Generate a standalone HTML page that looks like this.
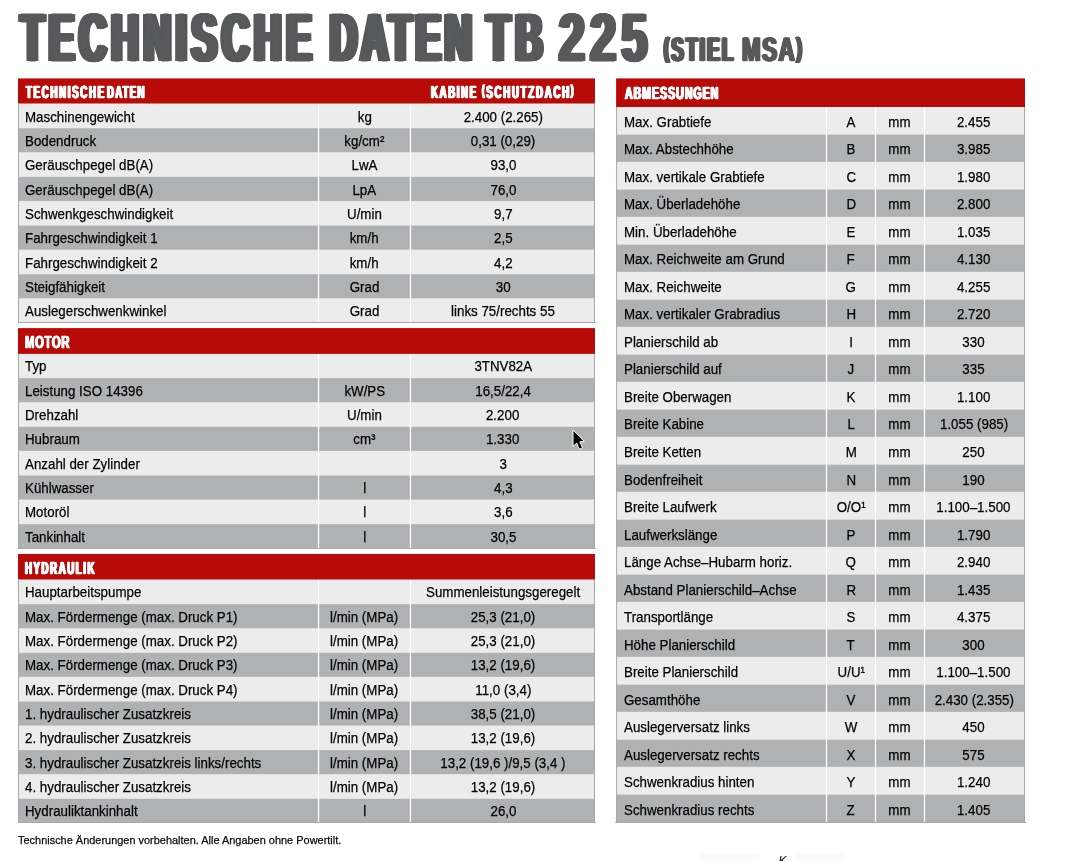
<!DOCTYPE html>
<html lang="de"><head><meta charset="utf-8"><title>Technische Daten TB 225</title>
<style>
html,body{margin:0;padding:0;background:#fff;}
body{width:1065px;height:861px;position:relative;overflow:hidden;font-family:"Liberation Sans",sans-serif;color:#000;}
.abs{position:absolute;}
.r{height:28px;line-height:28px;font-size:14.9px;}
.t{display:inline-block;transform:scaleX(0.895);-webkit-text-stroke:0.25px #000;transform-origin:0 50%;white-space:nowrap;}
.ct{text-align:center;}
.ct .t{transform-origin:50% 50%;}
.pa{font-size:0.82em;position:relative;top:-0.16em;}
.hl{position:absolute;text-rendering:geometricPrecision;color:#58595b;font-weight:bold;white-space:nowrap;transform-origin:0 0;}
</style></head><body>
<svg class="abs" style="left:0;top:0;" width="1065" height="861" viewBox="0 0 1065 861">
<rect x="18" y="100.75" width="577" height="222.25" fill="#ececec"/>
<rect x="18" y="128.233" width="577" height="24.033" fill="#b0b1b3"/>
<rect x="18" y="176.9" width="577" height="24.033" fill="#b0b1b3"/>
<rect x="18" y="225.567" width="577" height="24.033" fill="#b0b1b3"/>
<rect x="18" y="274.233" width="577" height="24.033" fill="#b0b1b3"/>
<rect x="317.9" y="103.25" width="1.3" height="219.75" fill="#fff"/>
<rect x="409.8" y="103.25" width="1.3" height="219.75" fill="#fff"/>
<rect x="18" y="78.4" width="577" height="25.1" fill="#b80a07"/>
<rect x="18" y="322" width="578" height="1" fill="#a8a9ab"/>
<rect x="594" y="103.5" width="1" height="219.5" fill="#a8a9ab"/>
<rect x="18" y="103.5" width="1" height="219.5" fill="#a8a9ab"/>
<rect x="18" y="350.67" width="577" height="198.33" fill="#ececec"/>
<rect x="18" y="378.153" width="577" height="24.033" fill="#b0b1b3"/>
<rect x="18" y="426.82" width="577" height="24.033" fill="#b0b1b3"/>
<rect x="18" y="475.486" width="577" height="24.033" fill="#b0b1b3"/>
<rect x="18" y="524.153" width="577" height="24.847" fill="#b0b1b3"/>
<rect x="317.9" y="353.17" width="1.3" height="195.83" fill="#fff"/>
<rect x="409.8" y="353.17" width="1.3" height="195.83" fill="#fff"/>
<rect x="18" y="328.1" width="577" height="25.8" fill="#b80a07"/>
<rect x="18" y="548" width="578" height="1" fill="#a8a9ab"/>
<rect x="594" y="353.9" width="1" height="195.1" fill="#a8a9ab"/>
<rect x="18" y="353.9" width="1" height="195.1" fill="#a8a9ab"/>
<rect x="18" y="576.67" width="577" height="246.33" fill="#ececec"/>
<rect x="18" y="604.153" width="577" height="24.033" fill="#b0b1b3"/>
<rect x="18" y="652.82" width="577" height="24.033" fill="#b0b1b3"/>
<rect x="18" y="701.486" width="577" height="24.033" fill="#b0b1b3"/>
<rect x="18" y="750.153" width="577" height="24.033" fill="#b0b1b3"/>
<rect x="18" y="798.82" width="577" height="24.18" fill="#b0b1b3"/>
<rect x="317.9" y="579.17" width="1.3" height="243.83" fill="#fff"/>
<rect x="409.8" y="579.17" width="1.3" height="243.83" fill="#fff"/>
<rect x="18" y="553.95" width="577" height="25.55" fill="#b80a07"/>
<rect x="18" y="822" width="578" height="1" fill="#a8a9ab"/>
<rect x="594" y="579.5" width="1" height="243.5" fill="#a8a9ab"/>
<rect x="18" y="579.5" width="1" height="243.5" fill="#a8a9ab"/>
<rect x="616.1" y="104" width="408.9" height="719" fill="#ececec"/>
<rect x="616.1" y="134.65" width="408.9" height="27.2" fill="#b0b1b3"/>
<rect x="616.1" y="189.65" width="408.9" height="27.2" fill="#b0b1b3"/>
<rect x="616.1" y="244.65" width="408.9" height="27.2" fill="#b0b1b3"/>
<rect x="616.1" y="299.65" width="408.9" height="27.2" fill="#b0b1b3"/>
<rect x="616.1" y="354.65" width="408.9" height="27.2" fill="#b0b1b3"/>
<rect x="616.1" y="409.65" width="408.9" height="27.2" fill="#b0b1b3"/>
<rect x="616.1" y="464.65" width="408.9" height="27.2" fill="#b0b1b3"/>
<rect x="616.1" y="519.65" width="408.9" height="27.2" fill="#b0b1b3"/>
<rect x="616.1" y="574.65" width="408.9" height="27.2" fill="#b0b1b3"/>
<rect x="616.1" y="629.65" width="408.9" height="27.2" fill="#b0b1b3"/>
<rect x="616.1" y="684.65" width="408.9" height="27.2" fill="#b0b1b3"/>
<rect x="616.1" y="739.65" width="408.9" height="27.2" fill="#b0b1b3"/>
<rect x="616.1" y="794.65" width="408.9" height="28.35" fill="#b0b1b3"/>
<rect x="825.85" y="106.5" width="1.3" height="716.5" fill="#fff"/>
<rect x="874.85" y="106.5" width="1.3" height="716.5" fill="#fff"/>
<rect x="923.85" y="106.5" width="1.3" height="716.5" fill="#fff"/>
<rect x="616.1" y="78.4" width="408.9" height="28.6" fill="#b80a07"/>
<rect x="616.1" y="107" width="1" height="716" fill="#a8a9ab"/>
<rect x="1024" y="107" width="1" height="716" fill="#a8a9ab"/>
<rect x="615.1" y="822" width="410.9" height="1" fill="#a8a9ab"/>
</svg>
<div class="hl" style="-webkit-text-stroke:1.2px #58595b;color:#58595b;left:20.8px;top:-1.56px;font-size:68px;line-height:81.6px;height:81.6px;transform:scale(0.55,1);letter-spacing:9.56px;text-shadow:1px 0 0 #58595b,-1px 0 0 #58595b,2px 0 0 #58595b,-2px 0 0 #58595b,3px 0 0 #58595b,-3px 0 0 #58595b,4px 0 0 #58595b,-4px 0 0 #58595b,5px 0 0 #58595b,-5px 0 0 #58595b,6px 0 0 #58595b,-6px 0 0 #58595b;">TECHNISCHE</div>
<div class="hl" style="-webkit-text-stroke:1.2px #58595b;color:#58595b;left:329.65px;top:-1.56px;font-size:68px;line-height:81.6px;height:81.6px;transform:scale(0.55,1);letter-spacing:7.11px;text-shadow:1px 0 0 #58595b,-1px 0 0 #58595b,2px 0 0 #58595b,-2px 0 0 #58595b,3px 0 0 #58595b,-3px 0 0 #58595b,4px 0 0 #58595b,-4px 0 0 #58595b,5px 0 0 #58595b,-5px 0 0 #58595b,6px 0 0 #58595b,-6px 0 0 #58595b;">DATEN</div>
<div class="hl" style="-webkit-text-stroke:1.2px #58595b;color:#58595b;left:487.2px;top:-1.56px;font-size:68px;line-height:81.6px;height:81.6px;transform:scale(0.55,1);letter-spacing:10.4px;text-shadow:1px 0 0 #58595b,-1px 0 0 #58595b,2px 0 0 #58595b,-2px 0 0 #58595b,3px 0 0 #58595b,-3px 0 0 #58595b,4px 0 0 #58595b,-4px 0 0 #58595b,5px 0 0 #58595b,-5px 0 0 #58595b,6px 0 0 #58595b,-6px 0 0 #58595b;">TB</div>
<div class="hl" style="-webkit-text-stroke:1.2px #58595b;color:#58595b;left:559px;top:-1.56px;font-size:68px;line-height:81.6px;height:81.6px;transform:scale(0.68,1);letter-spacing:8.13px;text-shadow:1px 0 0 #58595b,-1px 0 0 #58595b,2px 0 0 #58595b,-2px 0 0 #58595b,3px 0 0 #58595b,-3px 0 0 #58595b,3.8px 0 0 #58595b,-3.8px 0 0 #58595b;">225</div>
<div class="hl" style="-webkit-text-stroke:0.6px #58595b;color:#58595b;left:663.8px;top:30.01px;font-size:33.8px;line-height:40.56px;height:40.56px;transform:scale(0.55,1);letter-spacing:4.2px;text-shadow:1px 0 0 #58595b,-1px 0 0 #58595b,2px 0 0 #58595b,-2px 0 0 #58595b,3px 0 0 #58595b,-3px 0 0 #58595b;"><span class="pa">(</span>STIEL</div>
<div class="hl" style="-webkit-text-stroke:0.6px #58595b;color:#58595b;left:741.72px;top:30.01px;font-size:33.8px;line-height:40.56px;height:40.56px;transform:scale(0.66,1);letter-spacing:2.33px;text-shadow:1px 0 0 #58595b,-1px 0 0 #58595b,2px 0 0 #58595b,-2px 0 0 #58595b;">MSA<span class="pa">)</span></div>
<div class="hl" style="-webkit-text-stroke:0.3px #fff;color:#fff;left:25.8px;top:81.54px;font-size:17.6px;line-height:21.12px;height:21.12px;transform:scale(0.55,1);letter-spacing:3.07px;text-shadow:1px 0 0 #fff,-1px 0 0 #fff,1.38px 0 0 #fff,-1.38px 0 0 #fff;">TECHNISCHE</div>
<div class="hl" style="-webkit-text-stroke:0.3px #fff;color:#fff;left:107.15px;top:81.54px;font-size:17.6px;line-height:21.12px;height:21.12px;transform:scale(0.55,1);letter-spacing:2.17px;text-shadow:1px 0 0 #fff,-1px 0 0 #fff,1.38px 0 0 #fff,-1.38px 0 0 #fff;">DATEN</div>
<div class="hl" style="-webkit-text-stroke:0.3px #fff;color:#fff;left:431.45px;top:81.54px;font-size:17.6px;line-height:21.12px;height:21.12px;transform:scale(0.55,1);letter-spacing:2.91px;text-shadow:1px 0 0 #fff,-1px 0 0 #fff,1.38px 0 0 #fff,-1.38px 0 0 #fff;">KABINE</div>
<div class="hl" style="-webkit-text-stroke:0.3px #fff;color:#fff;left:481.75px;top:81.54px;font-size:17.6px;line-height:21.12px;height:21.12px;transform:scale(0.55,1);letter-spacing:3.14px;text-shadow:1px 0 0 #fff,-1px 0 0 #fff,1.38px 0 0 #fff,-1.38px 0 0 #fff;"><span class="pa">(</span>SCHUTZDACH<span class="pa">)</span></div>
<div class="abs r" style="left:18px;top:103px;width:299.9px;"><span class="t" style="margin-left:6.5px;">Maschinengewicht</span></div><div class="abs r ct" style="left:319.2px;top:103px;width:90.6px;"><span class="t">kg</span></div><div class="abs r ct" style="left:411.1px;top:103px;width:183.9px;"><span class="t">2.400 (2.265)</span></div>
<div class="abs r" style="left:18px;top:127px;width:299.9px;"><span class="t" style="margin-left:6.5px;">Bodendruck</span></div><div class="abs r ct" style="left:319.2px;top:127px;width:90.6px;"><span class="t">kg/cm²</span></div><div class="abs r ct" style="left:411.1px;top:127px;width:183.9px;"><span class="t">0,31 (0,29)</span></div>
<div class="abs r" style="left:18px;top:151px;width:299.9px;"><span class="t" style="margin-left:6.5px;">Geräuschpegel dB(A)</span></div><div class="abs r ct" style="left:319.2px;top:151px;width:90.6px;"><span class="t">LwA</span></div><div class="abs r ct" style="left:411.1px;top:151px;width:183.9px;"><span class="t">93,0</span></div>
<div class="abs r" style="left:18px;top:176px;width:299.9px;"><span class="t" style="margin-left:6.5px;">Geräuschpegel dB(A)</span></div><div class="abs r ct" style="left:319.2px;top:176px;width:90.6px;"><span class="t">LpA</span></div><div class="abs r ct" style="left:411.1px;top:176px;width:183.9px;"><span class="t">76,0</span></div>
<div class="abs r" style="left:18px;top:200px;width:299.9px;"><span class="t" style="margin-left:6.5px;">Schwenkgeschwindigkeit</span></div><div class="abs r ct" style="left:319.2px;top:200px;width:90.6px;"><span class="t">U/min</span></div><div class="abs r ct" style="left:411.1px;top:200px;width:183.9px;"><span class="t">9,7</span></div>
<div class="abs r" style="left:18px;top:224px;width:299.9px;"><span class="t" style="margin-left:6.5px;">Fahrgeschwindigkeit 1</span></div><div class="abs r ct" style="left:319.2px;top:224px;width:90.6px;"><span class="t">km/h</span></div><div class="abs r ct" style="left:411.1px;top:224px;width:183.9px;"><span class="t">2,5</span></div>
<div class="abs r" style="left:18px;top:249px;width:299.9px;"><span class="t" style="margin-left:6.5px;">Fahrgeschwindigkeit 2</span></div><div class="abs r ct" style="left:319.2px;top:249px;width:90.6px;"><span class="t">km/h</span></div><div class="abs r ct" style="left:411.1px;top:249px;width:183.9px;"><span class="t">4,2</span></div>
<div class="abs r" style="left:18px;top:273px;width:299.9px;"><span class="t" style="margin-left:6.5px;">Steigfähigkeit</span></div><div class="abs r ct" style="left:319.2px;top:273px;width:90.6px;"><span class="t">Grad</span></div><div class="abs r ct" style="left:411.1px;top:273px;width:183.9px;"><span class="t">30</span></div>
<div class="abs r" style="left:18px;top:297px;width:299.9px;"><span class="t" style="margin-left:6.5px;">Auslegerschwenkwinkel</span></div><div class="abs r ct" style="left:319.2px;top:297px;width:90.6px;"><span class="t">Grad</span></div><div class="abs r ct" style="left:411.1px;top:297px;width:183.9px;"><span class="t">links 75/rechts 55</span></div>
<div class="hl" style="-webkit-text-stroke:0.3px #fff;color:#fff;left:24.75px;top:331.54px;font-size:17.6px;line-height:21.12px;height:21.12px;transform:scale(0.64,1);letter-spacing:1.09px;text-shadow:0.9px 0 0 #fff,-0.9px 0 0 #fff;">MOTOR</div>
<div class="abs r" style="left:18px;top:352px;width:299.9px;"><span class="t" style="margin-left:6.5px;">Typ</span></div><div class="abs r ct" style="left:411.1px;top:352px;width:183.9px;"><span class="t">3TNV82A</span></div>
<div class="abs r" style="left:18px;top:377px;width:299.9px;"><span class="t" style="margin-left:6.5px;">Leistung ISO 14396</span></div><div class="abs r ct" style="left:319.2px;top:377px;width:90.6px;"><span class="t">kW/PS</span></div><div class="abs r ct" style="left:411.1px;top:377px;width:183.9px;"><span class="t">16,5/22,4</span></div>
<div class="abs r" style="left:18px;top:401px;width:299.9px;"><span class="t" style="margin-left:6.5px;">Drehzahl</span></div><div class="abs r ct" style="left:319.2px;top:401px;width:90.6px;"><span class="t">U/min</span></div><div class="abs r ct" style="left:411.1px;top:401px;width:183.9px;"><span class="t">2.200</span></div>
<div class="abs r" style="left:18px;top:425px;width:299.9px;"><span class="t" style="margin-left:6.5px;">Hubraum</span></div><div class="abs r ct" style="left:319.2px;top:425px;width:90.6px;"><span class="t">cm³</span></div><div class="abs r ct" style="left:411.1px;top:425px;width:183.9px;"><span class="t">1.330</span></div>
<div class="abs r" style="left:18px;top:450px;width:299.9px;"><span class="t" style="margin-left:6.5px;">Anzahl der Zylinder</span></div><div class="abs r ct" style="left:411.1px;top:450px;width:183.9px;"><span class="t">3</span></div>
<div class="abs r" style="left:18px;top:474px;width:299.9px;"><span class="t" style="margin-left:6.5px;">Kühlwasser</span></div><div class="abs r ct" style="left:319.2px;top:474px;width:90.6px;"><span class="t">l</span></div><div class="abs r ct" style="left:411.1px;top:474px;width:183.9px;"><span class="t">4,3</span></div>
<div class="abs r" style="left:18px;top:498px;width:299.9px;"><span class="t" style="margin-left:6.5px;">Motoröl</span></div><div class="abs r ct" style="left:319.2px;top:498px;width:90.6px;"><span class="t">l</span></div><div class="abs r ct" style="left:411.1px;top:498px;width:183.9px;"><span class="t">3,6</span></div>
<div class="abs r" style="left:18px;top:523px;width:299.9px;"><span class="t" style="margin-left:6.5px;">Tankinhalt</span></div><div class="abs r ct" style="left:319.2px;top:523px;width:90.6px;"><span class="t">l</span></div><div class="abs r ct" style="left:411.1px;top:523px;width:183.9px;"><span class="t">30,5</span></div>
<div class="hl" style="-webkit-text-stroke:0.3px #fff;color:#fff;left:24.75px;top:557.54px;font-size:17.6px;line-height:21.12px;height:21.12px;transform:scale(0.55,1);letter-spacing:2.83px;text-shadow:1px 0 0 #fff,-1px 0 0 #fff,1.38px 0 0 #fff,-1.38px 0 0 #fff;">HYDRAULIK</div>
<div class="abs r" style="left:18px;top:578px;width:299.9px;"><span class="t" style="margin-left:6.5px;">Hauptarbeitspumpe</span></div><div class="abs r ct" style="left:411.1px;top:578px;width:183.9px;"><span class="t">Summenleistungsgeregelt</span></div>
<div class="abs r" style="left:18px;top:603px;width:299.9px;"><span class="t" style="margin-left:6.5px;">Max. Fördermenge (max. Druck P1)</span></div><div class="abs r ct" style="left:319.2px;top:603px;width:90.6px;"><span class="t">l/min (MPa)</span></div><div class="abs r ct" style="left:411.1px;top:603px;width:183.9px;"><span class="t">25,3 (21,0)</span></div>
<div class="abs r" style="left:18px;top:627px;width:299.9px;"><span class="t" style="margin-left:6.5px;">Max. Fördermenge (max. Druck P2)</span></div><div class="abs r ct" style="left:319.2px;top:627px;width:90.6px;"><span class="t">l/min (MPa)</span></div><div class="abs r ct" style="left:411.1px;top:627px;width:183.9px;"><span class="t">25,3 (21,0)</span></div>
<div class="abs r" style="left:18px;top:651px;width:299.9px;"><span class="t" style="margin-left:6.5px;">Max. Fördermenge (max. Druck P3)</span></div><div class="abs r ct" style="left:319.2px;top:651px;width:90.6px;"><span class="t">l/min (MPa)</span></div><div class="abs r ct" style="left:411.1px;top:651px;width:183.9px;"><span class="t">13,2 (19,6)</span></div>
<div class="abs r" style="left:18px;top:676px;width:299.9px;"><span class="t" style="margin-left:6.5px;">Max. Fördermenge (max. Druck P4)</span></div><div class="abs r ct" style="left:319.2px;top:676px;width:90.6px;"><span class="t">l/min (MPa)</span></div><div class="abs r ct" style="left:411.1px;top:676px;width:183.9px;"><span class="t">11,0 (3,4)</span></div>
<div class="abs r" style="left:18px;top:700px;width:299.9px;"><span class="t" style="margin-left:6.5px;">1. hydraulischer Zusatzkreis</span></div><div class="abs r ct" style="left:319.2px;top:700px;width:90.6px;"><span class="t">l/min (MPa)</span></div><div class="abs r ct" style="left:411.1px;top:700px;width:183.9px;"><span class="t">38,5 (21,0)</span></div>
<div class="abs r" style="left:18px;top:724px;width:299.9px;"><span class="t" style="margin-left:6.5px;">2. hydraulischer Zusatzkreis</span></div><div class="abs r ct" style="left:319.2px;top:724px;width:90.6px;"><span class="t">l/min (MPa)</span></div><div class="abs r ct" style="left:411.1px;top:724px;width:183.9px;"><span class="t">13,2 (19,6)</span></div>
<div class="abs r" style="left:18px;top:749px;width:299.9px;"><span class="t" style="margin-left:6.5px;">3. hydraulischer Zusatzkreis links/rechts</span></div><div class="abs r ct" style="left:319.2px;top:749px;width:90.6px;"><span class="t">l/min (MPa)</span></div><div class="abs r ct" style="left:411.1px;top:749px;width:183.9px;"><span class="t">13,2 (19,6 )/9,5 (3,4 )</span></div>
<div class="abs r" style="left:18px;top:773px;width:299.9px;"><span class="t" style="margin-left:6.5px;">4. hydraulischer Zusatzkreis</span></div><div class="abs r ct" style="left:319.2px;top:773px;width:90.6px;"><span class="t">l/min (MPa)</span></div><div class="abs r ct" style="left:411.1px;top:773px;width:183.9px;"><span class="t">13,2 (19,6)</span></div>
<div class="abs r" style="left:18px;top:797px;width:299.9px;"><span class="t" style="margin-left:6.5px;">Hydrauliktankinhalt</span></div><div class="abs r ct" style="left:319.2px;top:797px;width:90.6px;"><span class="t">l</span></div><div class="abs r ct" style="left:411.1px;top:797px;width:183.9px;"><span class="t">26,0</span></div>
<div class="hl" style="-webkit-text-stroke:0.3px #fff;color:#fff;left:624.8px;top:82.54px;font-size:17.6px;line-height:21.12px;height:21.12px;transform:scale(0.6,1);letter-spacing:1.67px;text-shadow:1px 0 0 #fff,-1px 0 0 #fff,1.1px 0 0 #fff,-1.1px 0 0 #fff;">ABMESSUNGEN</div>
<div class="abs r" style="left:616.1px;top:108px;width:209.75px;"><span class="t" style="margin-left:7.8px;">Max. Grabtiefe</span></div><div class="abs r ct" style="left:827.15px;top:108px;width:47.7px;"><span class="t">A</span></div><div class="abs r ct" style="left:875.65px;top:108px;width:47.7px;"><span class="t">mm</span></div><div class="abs r ct" style="left:923.95px;top:108px;width:99.85px;"><span class="t">2.455</span></div>
<div class="abs r" style="left:616.1px;top:135px;width:209.75px;"><span class="t" style="margin-left:7.8px;">Max. Abstechhöhe</span></div><div class="abs r ct" style="left:827.15px;top:135px;width:47.7px;"><span class="t">B</span></div><div class="abs r ct" style="left:875.65px;top:135px;width:47.7px;"><span class="t">mm</span></div><div class="abs r ct" style="left:923.95px;top:135px;width:99.85px;"><span class="t">3.985</span></div>
<div class="abs r" style="left:616.1px;top:163px;width:209.75px;"><span class="t" style="margin-left:7.8px;">Max. vertikale Grabtiefe</span></div><div class="abs r ct" style="left:827.15px;top:163px;width:47.7px;"><span class="t">C</span></div><div class="abs r ct" style="left:875.65px;top:163px;width:47.7px;"><span class="t">mm</span></div><div class="abs r ct" style="left:923.95px;top:163px;width:99.85px;"><span class="t">1.980</span></div>
<div class="abs r" style="left:616.1px;top:190px;width:209.75px;"><span class="t" style="margin-left:7.8px;">Max. Überladehöhe</span></div><div class="abs r ct" style="left:827.15px;top:190px;width:47.7px;"><span class="t">D</span></div><div class="abs r ct" style="left:875.65px;top:190px;width:47.7px;"><span class="t">mm</span></div><div class="abs r ct" style="left:923.95px;top:190px;width:99.85px;"><span class="t">2.800</span></div>
<div class="abs r" style="left:616.1px;top:218px;width:209.75px;"><span class="t" style="margin-left:7.8px;">Min. Überladehöhe</span></div><div class="abs r ct" style="left:827.15px;top:218px;width:47.7px;"><span class="t">E</span></div><div class="abs r ct" style="left:875.65px;top:218px;width:47.7px;"><span class="t">mm</span></div><div class="abs r ct" style="left:923.95px;top:218px;width:99.85px;"><span class="t">1.035</span></div>
<div class="abs r" style="left:616.1px;top:245px;width:209.75px;"><span class="t" style="margin-left:7.8px;">Max. Reichweite am Grund</span></div><div class="abs r ct" style="left:827.15px;top:245px;width:47.7px;"><span class="t">F</span></div><div class="abs r ct" style="left:875.65px;top:245px;width:47.7px;"><span class="t">mm</span></div><div class="abs r ct" style="left:923.95px;top:245px;width:99.85px;"><span class="t">4.130</span></div>
<div class="abs r" style="left:616.1px;top:273px;width:209.75px;"><span class="t" style="margin-left:7.8px;">Max. Reichweite</span></div><div class="abs r ct" style="left:827.15px;top:273px;width:47.7px;"><span class="t">G</span></div><div class="abs r ct" style="left:875.65px;top:273px;width:47.7px;"><span class="t">mm</span></div><div class="abs r ct" style="left:923.95px;top:273px;width:99.85px;"><span class="t">4.255</span></div>
<div class="abs r" style="left:616.1px;top:300px;width:209.75px;"><span class="t" style="margin-left:7.8px;">Max. vertikaler Grabradius</span></div><div class="abs r ct" style="left:827.15px;top:300px;width:47.7px;"><span class="t">H</span></div><div class="abs r ct" style="left:875.65px;top:300px;width:47.7px;"><span class="t">mm</span></div><div class="abs r ct" style="left:923.95px;top:300px;width:99.85px;"><span class="t">2.720</span></div>
<div class="abs r" style="left:616.1px;top:328px;width:209.75px;"><span class="t" style="margin-left:7.8px;">Planierschild ab</span></div><div class="abs r ct" style="left:827.15px;top:328px;width:47.7px;"><span class="t">I</span></div><div class="abs r ct" style="left:875.65px;top:328px;width:47.7px;"><span class="t">mm</span></div><div class="abs r ct" style="left:923.95px;top:328px;width:99.85px;"><span class="t">330</span></div>
<div class="abs r" style="left:616.1px;top:355px;width:209.75px;"><span class="t" style="margin-left:7.8px;">Planierschild auf</span></div><div class="abs r ct" style="left:827.15px;top:355px;width:47.7px;"><span class="t">J</span></div><div class="abs r ct" style="left:875.65px;top:355px;width:47.7px;"><span class="t">mm</span></div><div class="abs r ct" style="left:923.95px;top:355px;width:99.85px;"><span class="t">335</span></div>
<div class="abs r" style="left:616.1px;top:383px;width:209.75px;"><span class="t" style="margin-left:7.8px;">Breite Oberwagen</span></div><div class="abs r ct" style="left:827.15px;top:383px;width:47.7px;"><span class="t">K</span></div><div class="abs r ct" style="left:875.65px;top:383px;width:47.7px;"><span class="t">mm</span></div><div class="abs r ct" style="left:923.95px;top:383px;width:99.85px;"><span class="t">1.100</span></div>
<div class="abs r" style="left:616.1px;top:410px;width:209.75px;"><span class="t" style="margin-left:7.8px;">Breite Kabine</span></div><div class="abs r ct" style="left:827.15px;top:410px;width:47.7px;"><span class="t">L</span></div><div class="abs r ct" style="left:875.65px;top:410px;width:47.7px;"><span class="t">mm</span></div><div class="abs r ct" style="left:923.95px;top:410px;width:99.85px;"><span class="t">1.055 (985)</span></div>
<div class="abs r" style="left:616.1px;top:438px;width:209.75px;"><span class="t" style="margin-left:7.8px;">Breite Ketten</span></div><div class="abs r ct" style="left:827.15px;top:438px;width:47.7px;"><span class="t">M</span></div><div class="abs r ct" style="left:875.65px;top:438px;width:47.7px;"><span class="t">mm</span></div><div class="abs r ct" style="left:923.95px;top:438px;width:99.85px;"><span class="t">250</span></div>
<div class="abs r" style="left:616.1px;top:466px;width:209.75px;"><span class="t" style="margin-left:7.8px;">Bodenfreiheit</span></div><div class="abs r ct" style="left:827.15px;top:466px;width:47.7px;"><span class="t">N</span></div><div class="abs r ct" style="left:875.65px;top:466px;width:47.7px;"><span class="t">mm</span></div><div class="abs r ct" style="left:923.95px;top:466px;width:99.85px;"><span class="t">190</span></div>
<div class="abs r" style="left:616.1px;top:493px;width:209.75px;"><span class="t" style="margin-left:7.8px;">Breite Laufwerk</span></div><div class="abs r ct" style="left:827.15px;top:493px;width:47.7px;"><span class="t">O/O¹</span></div><div class="abs r ct" style="left:875.65px;top:493px;width:47.7px;"><span class="t">mm</span></div><div class="abs r ct" style="left:923.95px;top:493px;width:99.85px;"><span class="t">1.100–1.500</span></div>
<div class="abs r" style="left:616.1px;top:521px;width:209.75px;"><span class="t" style="margin-left:7.8px;">Laufwerkslänge</span></div><div class="abs r ct" style="left:827.15px;top:521px;width:47.7px;"><span class="t">P</span></div><div class="abs r ct" style="left:875.65px;top:521px;width:47.7px;"><span class="t">mm</span></div><div class="abs r ct" style="left:923.95px;top:521px;width:99.85px;"><span class="t">1.790</span></div>
<div class="abs r" style="left:616.1px;top:548px;width:209.75px;"><span class="t" style="margin-left:7.8px;">Länge Achse–Hubarm horiz.</span></div><div class="abs r ct" style="left:827.15px;top:548px;width:47.7px;"><span class="t">Q</span></div><div class="abs r ct" style="left:875.65px;top:548px;width:47.7px;"><span class="t">mm</span></div><div class="abs r ct" style="left:923.95px;top:548px;width:99.85px;"><span class="t">2.940</span></div>
<div class="abs r" style="left:616.1px;top:576px;width:209.75px;"><span class="t" style="margin-left:7.8px;">Abstand Planierschild–Achse</span></div><div class="abs r ct" style="left:827.15px;top:576px;width:47.7px;"><span class="t">R</span></div><div class="abs r ct" style="left:875.65px;top:576px;width:47.7px;"><span class="t">mm</span></div><div class="abs r ct" style="left:923.95px;top:576px;width:99.85px;"><span class="t">1.435</span></div>
<div class="abs r" style="left:616.1px;top:603px;width:209.75px;"><span class="t" style="margin-left:7.8px;">Transportlänge</span></div><div class="abs r ct" style="left:827.15px;top:603px;width:47.7px;"><span class="t">S</span></div><div class="abs r ct" style="left:875.65px;top:603px;width:47.7px;"><span class="t">mm</span></div><div class="abs r ct" style="left:923.95px;top:603px;width:99.85px;"><span class="t">4.375</span></div>
<div class="abs r" style="left:616.1px;top:631px;width:209.75px;"><span class="t" style="margin-left:7.8px;">Höhe Planierschild</span></div><div class="abs r ct" style="left:827.15px;top:631px;width:47.7px;"><span class="t">T</span></div><div class="abs r ct" style="left:875.65px;top:631px;width:47.7px;"><span class="t">mm</span></div><div class="abs r ct" style="left:923.95px;top:631px;width:99.85px;"><span class="t">300</span></div>
<div class="abs r" style="left:616.1px;top:658px;width:209.75px;"><span class="t" style="margin-left:7.8px;">Breite Planierschild</span></div><div class="abs r ct" style="left:827.15px;top:658px;width:47.7px;"><span class="t">U/U¹</span></div><div class="abs r ct" style="left:875.65px;top:658px;width:47.7px;"><span class="t">mm</span></div><div class="abs r ct" style="left:923.95px;top:658px;width:99.85px;"><span class="t">1.100–1.500</span></div>
<div class="abs r" style="left:616.1px;top:686px;width:209.75px;"><span class="t" style="margin-left:7.8px;">Gesamthöhe</span></div><div class="abs r ct" style="left:827.15px;top:686px;width:47.7px;"><span class="t">V</span></div><div class="abs r ct" style="left:875.65px;top:686px;width:47.7px;"><span class="t">mm</span></div><div class="abs r ct" style="left:923.95px;top:686px;width:99.85px;"><span class="t">2.430 (2.355)</span></div>
<div class="abs r" style="left:616.1px;top:713px;width:209.75px;"><span class="t" style="margin-left:7.8px;">Auslegerversatz links</span></div><div class="abs r ct" style="left:827.15px;top:713px;width:47.7px;"><span class="t">W</span></div><div class="abs r ct" style="left:875.65px;top:713px;width:47.7px;"><span class="t">mm</span></div><div class="abs r ct" style="left:923.95px;top:713px;width:99.85px;"><span class="t">450</span></div>
<div class="abs r" style="left:616.1px;top:741px;width:209.75px;"><span class="t" style="margin-left:7.8px;">Auslegerversatz rechts</span></div><div class="abs r ct" style="left:827.15px;top:741px;width:47.7px;"><span class="t">X</span></div><div class="abs r ct" style="left:875.65px;top:741px;width:47.7px;"><span class="t">mm</span></div><div class="abs r ct" style="left:923.95px;top:741px;width:99.85px;"><span class="t">575</span></div>
<div class="abs r" style="left:616.1px;top:768px;width:209.75px;"><span class="t" style="margin-left:7.8px;">Schwenkradius hinten</span></div><div class="abs r ct" style="left:827.15px;top:768px;width:47.7px;"><span class="t">Y</span></div><div class="abs r ct" style="left:875.65px;top:768px;width:47.7px;"><span class="t">mm</span></div><div class="abs r ct" style="left:923.95px;top:768px;width:99.85px;"><span class="t">1.240</span></div>
<div class="abs r" style="left:616.1px;top:796px;width:209.75px;"><span class="t" style="margin-left:7.8px;">Schwenkradius rechts</span></div><div class="abs r ct" style="left:827.15px;top:796px;width:47.7px;"><span class="t">Z</span></div><div class="abs r ct" style="left:875.65px;top:796px;width:47.7px;"><span class="t">mm</span></div><div class="abs r ct" style="left:923.95px;top:796px;width:99.85px;"><span class="t">1.405</span></div>
<div class="abs" style="left:18.2px;top:833.3px;font-size:11.7px;line-height:14px;white-space:nowrap;color:#111;"><span class="t" style="transform:scaleX(0.937);">Technische Änderungen vorbehalten. Alle Angaben ohne Powertilt.</span></div>
<div class="abs" style="left:701px;top:852.5px;width:144px;height:9px;background:#fafafa;"></div><div class="abs" style="left:759px;top:852px;width:38px;height:9px;background:#fff;"></div>
<div class="abs" style="left:778.5px;top:853.6px;font-size:12px;line-height:14px;color:#111;font-style:italic;">K</div>
<svg class="abs" style="left:571.5px;top:429px;" width="14" height="22" viewBox="0 0 14 22"><path d="M1 1 L1 17.6 L4.7 14.1 L7.3 20.3 L10.5 18.9 L7.8 12.8 L12.3 12.5 Z" fill="#000" stroke="#fff" stroke-width="1" stroke-linejoin="miter"/></svg>
</body></html>
